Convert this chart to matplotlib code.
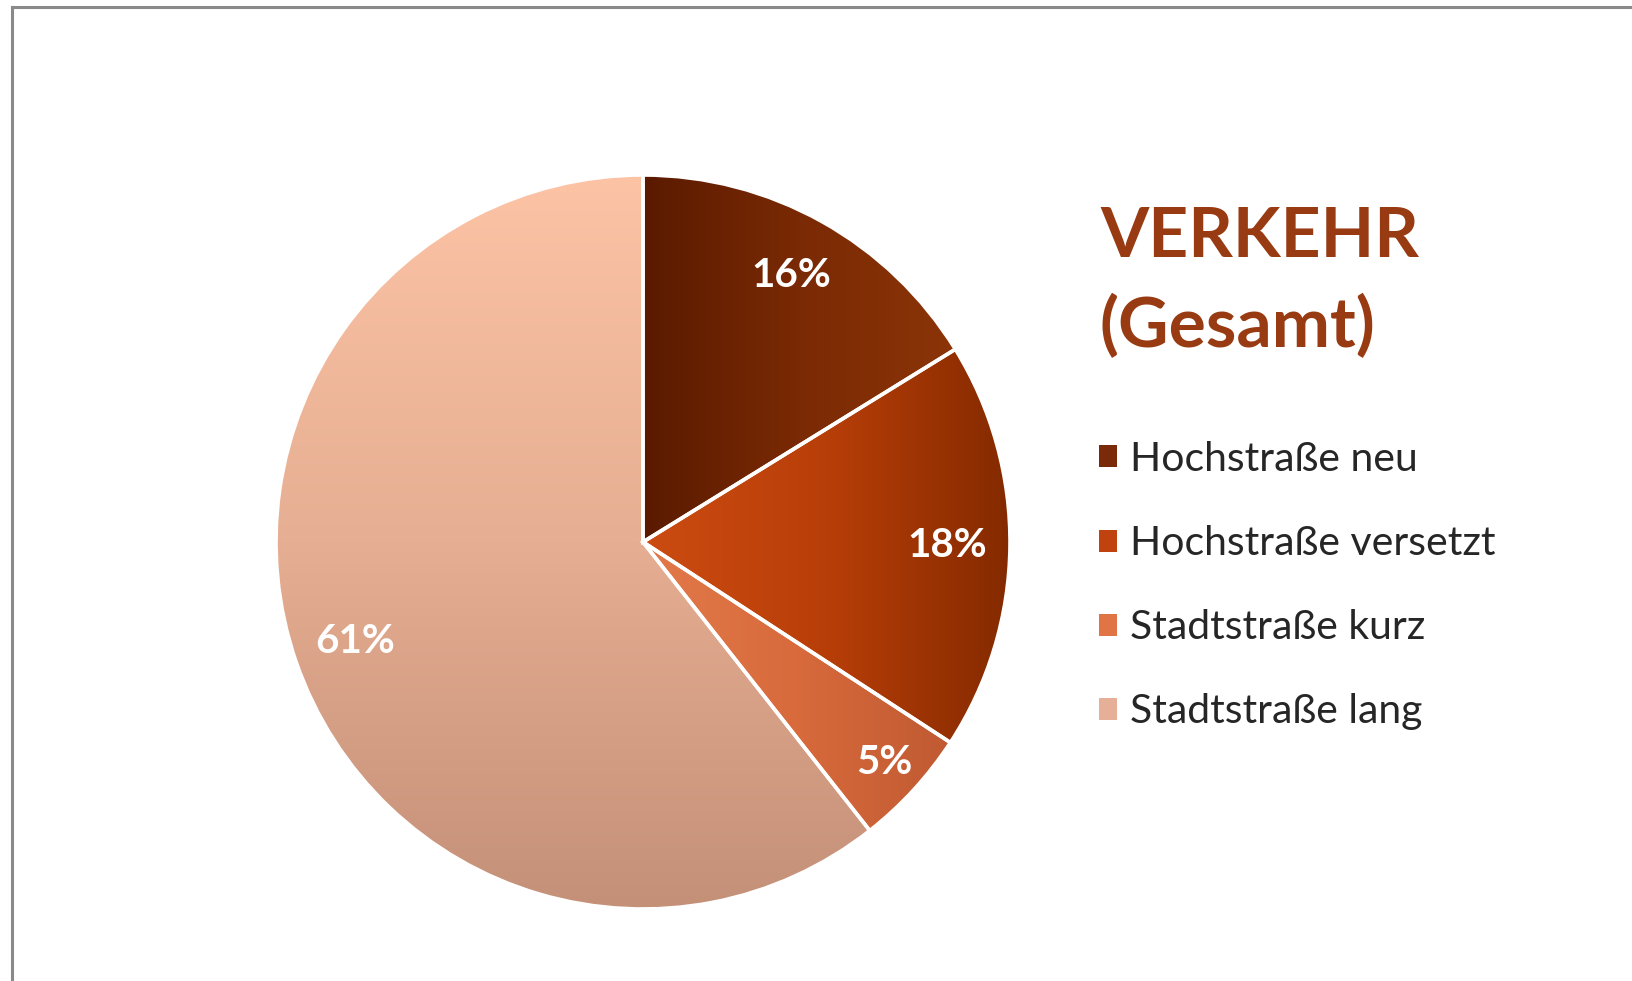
import matplotlib
matplotlib.use("Agg")
import matplotlib.pyplot as plt
import numpy as np
from matplotlib.colors import LinearSegmentedColormap
from matplotlib.patches import Patch
from matplotlib.lines import Line2D

categories = ["Hochstraße neu", "Hochstraße versetzt", "Stadtstraße kurz", "Stadtstraße lang"]
values = [16.2, 18.0, 5.2, 60.6]
title_lines = ["VERKEHR", "(Gesamt)"]

# gradient colour stops per slice (style)
grad_stops = [
    ["#5a1a00", "#7a2a04", "#8c3408"],
    ["#cc4c12", "#b83e08", "#842a00"],
    ["#e27a4a", "#d86a3c", "#c05a32"],
    ["#fcc3a5", "#e6ae92", "#c49078"],
]
grad_dir = ["h", "h", "h", "v"]
legend_colors = ["#7a2a08", "#c0420e", "#e07444", "#e6b098"]
title_color = "#983a12"
font = "Lato"

W, H = 1633, 981
fig = plt.figure(figsize=(W / 100, H / 100), dpi=100)
fig.patch.set_facecolor("white")

# frame lines (top and left)
fig.add_artist(Line2D([12 / W, 12 / W], [0, 1 - 7 / H], color="#8a8a8a", lw=2.2, transform=fig.transFigure))
fig.add_artist(Line2D([12 / W, 1], [1 - 7 / H, 1 - 7 / H], color="#8a8a8a", lw=2.2, transform=fig.transFigure))

cx, cy, R = 643, 981 - 542, 367
half = 1.1 * R
ax = fig.add_axes([(cx - half) / W, (cy - half) / H, 2 * half / W, 2 * half / H])
ax.set_xlim(-1.1, 1.1)
ax.set_ylim(-1.1, 1.1)
ax.set_aspect("equal")
ax.axis("off")

wedges, texts, autotexts = ax.pie(
    values, startangle=90, counterclock=False, radius=1.0,
    colors=legend_colors, autopct="%.0f%%", pctdistance=0.83,
    wedgeprops=dict(edgecolor="white", linewidth=2.6),
    textprops=dict(color="white", fontsize=29, fontweight="bold", family=font),
)

# gradient fills clipped to wedges
for w, stops, d in zip(wedges, grad_stops, grad_dir):
    cmap = LinearSegmentedColormap.from_list("g", stops)
    t1, t2 = np.deg2rad(w.theta1), np.deg2rad(w.theta2)
    ang = np.linspace(t1, t2, 200)
    xs = np.concatenate([[0], np.cos(ang)])
    ys = np.concatenate([[0], np.sin(ang)])
    x0, x1, y0, y1 = xs.min(), xs.max(), ys.min(), ys.max()
    g = np.linspace(0, 1, 256)
    if d == "h":
        arr = np.tile(g, (2, 1))
    else:
        arr = np.tile(g[::-1][:, None], (1, 2))
    im = ax.imshow(arr, cmap=cmap, vmin=0, vmax=1, extent=[x0, x1, y0, y1], origin="lower",
                   aspect="auto", zorder=w.get_zorder() + 0.1, interpolation="bilinear")
    im.set_clip_path(w)
    w.set_facecolor("none")
    w.set_zorder(w.get_zorder() + 0.2)

for t in autotexts:
    t.set_zorder(10)
# slight outward shift for the small slice label
w = wedges[2]
mid = np.deg2rad((w.theta1 + w.theta2) / 2)
autotexts[2].set_position((0.89 * np.cos(mid), 0.89 * np.sin(mid)))
ax.set_xlim(-1.1, 1.1)
ax.set_ylim(-1.1, 1.1)

# title
fig.text(1100 / W, 1 - 257 / H, title_lines[0], color=title_color, fontsize=50, fontweight="bold",
         family=font, ha="left", va="baseline")
fig.text(1100 / W, 1 - 347 / H, title_lines[1], color=title_color, fontsize=50, fontweight="bold",
         family=font, ha="left", va="baseline")

handles = [Patch(facecolor=c, edgecolor="none") for c in legend_colors]
leg = fig.legend(handles, categories, loc="upper left", bbox_to_anchor=(1099 / W, 1 - 441 / H),
                 frameon=False, prop=dict(family=font, size=29.5), handlelength=0.45, handleheight=0.45,
                 handletextpad=0.3, labelspacing=1.15, borderaxespad=0, borderpad=0)
for t in leg.get_texts():
    t.set_color("#262626")

fig.savefig("out.png", dpi=100, facecolor="white")
